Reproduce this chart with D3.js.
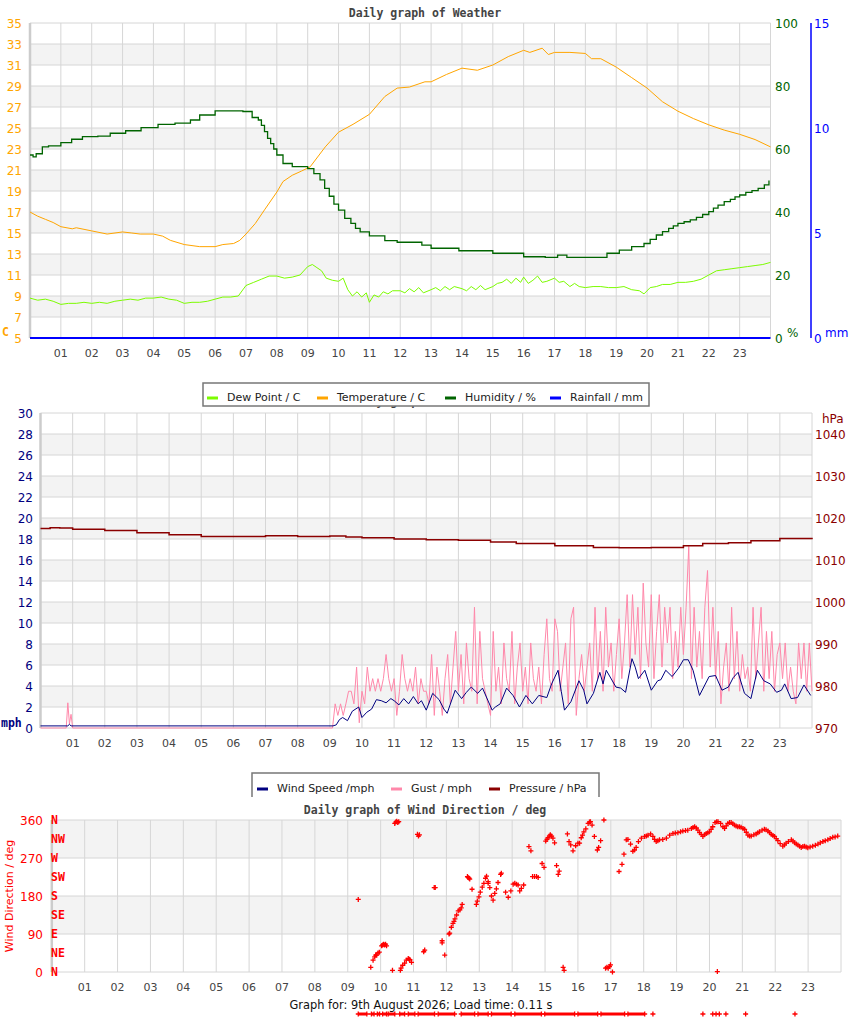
<!DOCTYPE html>
<html>
<head>
<meta charset="utf-8">
<script src="https://cdn.jsdelivr.net/npm/d3@7"></script>
<style>
body { margin: 0; background: #fff; }
text { font-family: "DejaVu Sans", sans-serif; }
.ttl { font-family: "DejaVu Sans Mono", monospace; font-weight: bold; font-size: 11.5px; fill: #444; }
.lbl { font-size: 12px; }
.hr { font-size: 11px; fill: #444; }
</style>
</head>
<body>
<script>
// ---- tick labels ----
const hourLabels = ['01','02','03','04','05','06','07','08','09','10','11','12','13','14','15','16','17','18','19','20','21','22','23'];
const tempTicks = [5, 7, 9, 11, 13, 15, 17, 19, 21, 23, 25, 27, 29, 31, 33, 35];
const humTicks = [0, 20, 40, 60, 80, 100];
const rainTicks = [0, 5, 10, 15];
const windTicks = [0, 2, 4, 6, 8, 10, 12, 14, 16, 18, 20, 22, 24, 26, 28, 30];
const pressTicks = [970, 980, 990, 1000, 1010, 1020, 1030, 1040];
const dirTicks = [0, 90, 180, 270, 360];
const compass = ['N', 'NE', 'E', 'SE', 'S', 'SW', 'W', 'NW', 'N'];

// ---- weather series [hour, value] ----
const temperature = [[0,17.0],[0.25,16.6],[0.5,16.3],[0.75,16.0],[1.0,15.6],[1.37,15.4],[1.5,15.5],[2.0,15.2],[2.5,14.9],[3.0,15.1],[3.3,15.0],[3.57,14.9],[4.0,14.9],[4.3,14.7],[4.55,14.3],[5.0,13.9],[5.5,13.7],[6.0,13.7],[6.25,13.9],[6.6,14.0],[6.8,14.3],[7.0,14.9],[7.3,15.9],[7.6,17.2],[8.0,18.9],[8.2,19.9],[8.5,20.5],[8.8,20.9],[9.08,21.3],[9.57,23.2],[10.0,24.6],[10.47,25.35],[11.0,26.3],[11.5,28.0],[11.9,28.8],[12.3,28.9],[12.8,29.4],[13.0,29.4],[13.5,30.1],[14.0,30.7],[14.5,30.5],[15.0,31.0],[15.5,31.8],[16.0,32.4],[16.2,32.2],[16.4,32.4],[16.6,32.6],[16.8,32.0],[17.0,32.2],[17.5,32.2],[18.0,32.1],[18.2,31.6],[18.5,31.6],[19.0,30.8],[19.5,29.8],[20.0,28.8],[20.5,27.5],[21.0,26.6],[21.5,25.9],[22.0,25.3],[22.5,24.8],[23.0,24.4],[23.5,23.9],[24.0,23.2]];

const dewPoint = [[0,8.8],[0.25,8.6],[0.5,8.7],[0.75,8.5],[1,8.2],[1.25,8.3],[1.5,8.3],[1.75,8.4],[2,8.3],[2.25,8.4],[2.5,8.3],[2.75,8.5],[3,8.6],[3.25,8.7],[3.5,8.6],[3.75,8.8],[4,8.8],[4.25,8.9],[4.5,8.7],[4.75,8.6],[5,8.3],[5.25,8.4],[5.5,8.4],[5.75,8.5],[6,8.7],[6.25,8.9],[6.5,8.9],[6.75,9.0],[7,10.0],[7.25,10.3],[7.5,10.6],[7.75,10.9],[8,10.9],[8.25,10.7],[8.5,10.8],[8.75,11.0],[9,11.8],[9.15,12.0],[9.3,11.7],[9.45,11.4],[9.6,10.7],[9.8,10.5],[10,10.4],[10.15,10.7],[10.3,9.6],[10.45,9.0],[10.6,9.4],[10.75,8.9],[10.9,9.3],[11,8.4],[11.15,9.1],[11.3,8.9],[11.45,9.4],[11.6,9.2],[11.75,9.5],[12,9.5],[12.15,9.3],[12.3,9.7],[12.45,9.4],[12.6,9.8],[12.75,9.3],[13,9.6],[13.15,9.8],[13.3,9.5],[13.45,9.9],[13.6,9.6],[13.75,9.9],[14,9.7],[14.15,9.5],[14.3,9.9],[14.45,9.6],[14.6,10.0],[14.75,9.6],[15,9.9],[15.15,10.2],[15.3,10.3],[15.45,10.6],[15.6,10.2],[15.75,10.7],[15.9,10.3],[16,10.8],[16.15,10.2],[16.3,10.5],[16.45,10.9],[16.6,10.3],[16.75,10.4],[17,10.7],[17.15,10.3],[17.3,10.4],[17.5,9.9],[17.65,10.2],[17.8,9.9],[18,9.8],[18.25,9.9],[18.5,9.9],[18.75,9.8],[19,9.8],[19.25,9.9],[19.5,9.6],[19.75,9.5],[19.9,9.2],[20.1,9.8],[20.3,9.9],[20.5,10.1],[20.75,10.1],[21,10.3],[21.25,10.3],[21.5,10.4],[21.75,10.6],[22,11.0],[22.25,11.4],[22.5,11.5],[22.75,11.6],[23,11.7],[23.25,11.8],[23.5,11.9],[23.75,12.0],[24,12.2]];

const humidity = [[0,58.1],[0.1,57.5],[0.2,58.5],[0.4,60.7],[0.6,61.0],[1.0,62.0],[1.35,63.1],[1.7,63.9],[2.2,64.1],[2.6,65.0],[3.1,65.8],[3.6,66.8],[4.15,67.8],[4.7,68.2],[5.2,69.2],[5.5,70.8],[6.0,72.1],[6.5,72.1],[6.9,71.9],[7.2,70.0],[7.4,69.2],[7.5,67.5],[7.6,65.5],[7.7,63.4],[7.8,61.7],[7.9,60.0],[8.0,58.1],[8.2,55.4],[8.5,54.4],[9.0,53.8],[9.2,52.2],[9.4,50.2],[9.55,47.5],[9.7,45.0],[9.85,42.5],[10.0,40.6],[10.2,38.0],[10.4,36.4],[10.55,34.8],[10.7,33.7],[11.0,32.4],[11.5,30.9],[11.9,30.4],[12.7,29.5],[13.0,28.5],[13.9,27.7],[15.0,26.9],[16.0,25.8],[16.7,25.6],[17.1,26.3],[17.4,25.6],[18.7,26.9],[19.1,27.9],[19.5,29.0],[19.9,30.0],[20.1,31.3],[20.3,32.7],[20.5,33.8],[20.7,34.8],[20.85,35.6],[21.0,36.4],[21.2,36.9],[21.4,37.5],[21.6,38.3],[21.8,39.2],[22.0,40.1],[22.15,41.2],[22.3,42.2],[22.5,43.3],[22.7,44.0],[22.85,44.8],[23.0,45.4],[23.2,46.2],[23.4,46.8],[23.6,47.5],[23.8,48.6],[23.95,50.0]];

const rainfall = [[0,0],[6,0],[12,0],[18,0],[24,0]];

// ---- wind series ----
const windSpeed = [[0,0.2],[0.85,0.2],[0.9,0.35],[0.95,0.2],[9.1,0.2],[9.2,0.3],[9.3,0.8],[9.4,1.0],[9.55,0.7],[9.7,1.6],[9.9,2.0],[10.0,1.0],[10.15,1.5],[10.3,1.8],[10.45,2.7],[10.6,2.6],[10.75,2.4],[10.9,2.8],[11.0,2.6],[11.15,2.2],[11.3,2.8],[11.45,2.3],[11.6,3.0],[11.75,2.3],[11.85,2.6],[12.0,1.7],[12.2,3.3],[12.4,2.7],[12.55,1.8],[12.65,1.4],[12.9,3.6],[13.1,2.8],[13.25,3.4],[13.4,3.9],[13.6,3.3],[13.75,3.8],[14.05,1.7],[14.15,2.0],[14.3,2.3],[14.5,3.8],[14.7,3.1],[14.9,2.0],[15.1,3.1],[15.3,2.3],[15.5,3.1],[15.75,2.9],[15.9,4.2],[16.1,5.5],[16.2,3.5],[16.3,1.7],[16.5,2.5],[16.75,4.5],[16.9,3.6],[17.0,2.3],[17.2,3.3],[17.4,5.3],[17.5,4.2],[17.6,5.5],[17.9,3.9],[18.05,3.8],[18.2,3.4],[18.4,6.6],[18.5,5.8],[18.6,4.7],[18.8,5.5],[19.0,3.6],[19.2,4.5],[19.3,4.6],[19.45,5.5],[19.65,4.9],[19.85,5.7],[20.0,6.5],[20.15,6.5],[20.3,5.5],[20.5,3.1],[20.65,4.0],[20.8,4.9],[21.0,5.0],[21.2,3.6],[21.4,3.9],[21.55,4.8],[21.7,5.3],[21.9,3.3],[22.1,2.8],[22.3,5.5],[22.5,4.5],[22.7,4.2],[22.9,3.4],[23.05,3.6],[23.15,4.2],[23.35,2.8],[23.55,2.9],[23.75,4.1],[23.96,3.1]];

// gusts, one reading every 5 minutes from 09:00
const gustStart = 9;
const gust = [
  0, 0, 2.3, 1.2, 2.3, 1.2, 2.3, 3.5, 3.5, 2.3, 5.8, 0.5,
  3.5, 2.3, 5.8, 3.5, 4.7, 3.5, 4.7, 3.5, 4.7, 7.0, 4.7, 3.5,
  4.7, 1.2, 3.5, 7.0, 4.7, 3.5, 4.7, 3.5, 5.8, 2.3, 4.7, 3.5,
  3.5, 2.3, 7.0, 1.2, 5.8, 3.5, 1.2, 4.7, 7.0, 2.3, 5.8, 9.2,
  3.5, 7.0, 2.3, 8.1, 4.7, 3.5, 11.5, 2.3, 9.2, 4.7, 3.5, 2.3,
  1.2, 9.2, 3.5, 5.8, 2.3, 8.1, 4.7, 3.5, 9.2, 2.3, 5.8, 8.1,
  3.5, 5.8, 2.3, 8.1, 4.7, 3.5, 5.8, 2.3, 7.0, 10.4, 4.7, 3.5,
  10.4, 9.2, 3.5, 5.8, 8.1, 2.3, 10.4, 11.5, 1.2, 4.7, 7.0, 3.5,
  5.8, 8.1, 3.5, 11.5, 4.7, 9.2, 3.5, 11.5, 5.8, 8.1, 3.5, 7.0,
  10.4, 4.7, 8.1, 12.7, 5.8, 12.7, 7.0, 11.5, 4.7, 13.8, 8.1, 5.8,
  12.7, 4.7, 9.2, 12.7, 5.8, 11.5, 8.1, 11.5, 4.7, 9.2, 5.8, 11.5,
  7.0, 11.5, 17.3, 4.7, 11.5, 5.8, 9.2, 4.7, 11.5, 15.0, 5.8, 11.5,
  4.7, 9.2, 2.3, 5.8, 8.1, 3.5, 11.5, 4.7, 9.2, 3.5, 7.0, 4.7,
  5.8, 3.5, 11.5, 4.7, 8.1, 11.5, 3.5, 9.2, 4.7, 9.2, 3.5, 7.0,
  8.1, 4.7, 8.1, 3.5, 5.8, 3.5, 2.3, 8.1, 4.7, 8.1, 3.5, 8.1, 3.5
];
const earlyGust = [[0,0],[0.8,0],[0.85,2.4],[0.9,0.4],[0.95,1.3],[1.0,0],[9,0]];

const pressure = [[0,1017.5],[0.3,1017.7],[0.6,1017.6],[1,1017.3],[2,1017.0],[3,1016.5],[4,1016.0],[5,1015.6],[6,1015.6],[7,1015.8],[8,1015.6],[9,1015.7],[9.5,1015.5],[10,1015.3],[11,1015.0],[12,1014.8],[13,1014.7],[14,1014.3],[14.8,1013.9],[16,1013.4],[17.2,1013.0],[18,1012.9],[19,1013.0],[20,1013.4],[20.6,1013.9],[21.4,1014.1],[22.1,1014.6],[23,1015.1],[24,1015.3]];

// ---- wind direction [hour, deg] ----
const direction = [[9.32,172],[9.70,11],[9.77,28],[9.82,36],[9.85,40],[9.88,40],[9.92,45],[9.96,47],[10.03,62],[10.06,64],[10.09,66],[10.12,64],[10.15,66],[10.18,62],[10.36,4],[10.43,352],[10.46,355],[10.49,357],[10.52,354],[10.55,356],[10.6,4],[10.62,9],[10.67,16],[10.73,21],[10.78,28],[10.84,32],[10.87,30],[10.89,29],[10.94,23],[11.12,326],[11.15,322],[11.18,325],[11.31,48],[11.34,52],[11.63,200],[11.66,200],[11.87,69],[11.87,74],[11.95,40],[12.08,90],[12.1,92],[12.15,106],[12.2,115],[12.23,120],[12.26,126],[12.31,135],[12.36,145],[12.41,147],[12.45,152],[12.48,160],[12.64,226],[12.66,224],[12.69,222],[12.71,220],[12.78,196],[12.91,160],[12.94,168],[12.99,178],[13.03,189],[13.09,201],[13.14,210],[13.19,222],[13.22,227],[13.27,214],[13.27,210],[13.32,200],[13.37,180],[13.42,170],[13.47,186],[13.52,197],[13.57,212],[13.65,231],[13.67,234],[13.8,189],[13.88,177],[13.96,192],[14.03,208],[14.08,210],[14.13,208],[14.18,206],[14.23,192],[14.28,198],[14.35,206],[14.51,297],[14.57,287],[14.62,226],[14.68,226],[14.74,226],[14.79,224],[14.91,257],[14.97,248],[15.02,310],[15.06,314],[15.09,318],[15.13,322],[15.16,325],[15.2,322],[15.24,317],[15.29,306],[15.35,252],[15.4,231],[15.43,239],[15.55,11],[15.58,4],[15.68,327],[15.73,309],[15.78,301],[15.85,287],[15.93,299],[16.0,305],[16.05,305],[16.1,318],[16.14,324],[16.18,332],[16.24,339],[16.31,352],[16.35,355],[16.38,356],[16.43,348],[16.5,321],[16.59,289],[16.63,295],[16.69,311],[16.79,360],[16.84,9],[16.88,11],[16.92,9],[16.96,13],[16.99,17],[17.05,0],[17.25,238],[17.34,255],[17.4,279],[17.47,313],[17.52,314],[17.6,303],[17.67,286],[17.72,289],[17.77,295],[17.84,309],[17.93,317],[18.03,321],[18.08,322],[18.13,324],[18.21,327],[18.28,321],[18.33,314],[18.38,309],[18.43,311],[18.48,313],[18.58,314],[18.69,317],[18.79,324],[18.89,328],[18.96,329],[19.04,330],[19.12,332],[19.19,334],[19.27,335],[19.34,336],[19.45,340],[19.5,342],[19.55,344],[19.6,341],[19.65,336],[19.7,330],[19.75,326],[19.8,321],[19.85,325],[19.9,328],[19.95,330],[20.0,332],[20.05,338],[20.1,344],[20.17,354],[20.22,356],[20.24,1],[20.26,356],[20.34,352],[20.41,344],[20.46,340],[20.51,346],[20.56,352],[20.61,354],[20.66,354],[20.71,351],[20.76,348],[20.81,346],[20.86,344],[20.91,344],[20.96,343],[21.02,340],[21.07,338],[21.12,331],[21.17,324],[21.22,322],[21.27,322],[21.35,325],[21.42,327],[21.47,330],[21.52,332],[21.6,336],[21.67,338],[21.72,337],[21.78,334],[21.83,330],[21.88,326],[21.93,323],[21.98,321],[22.03,316],[22.08,311],[22.15,304],[22.23,298],[22.28,301],[22.33,305],[22.4,309],[22.49,313],[22.54,310],[22.59,306],[22.64,303],[22.69,301],[22.74,298],[22.79,295],[22.84,297],[22.89,298],[22.94,296],[22.99,294],[23.06,296],[23.14,298],[23.22,300],[23.3,303],[23.37,306],[23.45,309],[23.52,311],[23.6,313],[23.67,316],[23.75,319],[23.82,320],[23.9,322]];

// readings that fall below the scale (plotted off the bottom)
const offScaleDeg = -99.5;
const offScaleRuns = [[9.32,9.58],[9.72,9.8],[9.9,9.97],[10.06,10.18],[10.23,10.43],[10.58,10.73],[10.84,11.04],[11.14,11.64],[11.75,12.25],[12.45,12.86],[12.96,13.27],[13.37,13.97],[14.08,14.89],[14.99,15.9],[16.0,16.6],[16.7,17.42],[17.52,18.03]];
const offScaleSingles = [18.28, 19.8, 20.1, 20.2, 20.3, 20.5, 21.1, 22.6];

// ---------------------------------------------------------------
const svg = d3.select('body').append('svg')
    .attr('width', 850)
    .attr('height', 1017);

const hourX = d => d[0];
const val = d => d[1];

// grid, bands and hour labels of one panel
function drawPanel(x, y, ticks) {
    const [left, right] = [x.range()[0], x.range()[1]];
    const [bottom, top] = y.range();
    const g = svg.append('g');

    for (let i = 0; i < ticks.length - 1; i++) {
        if (i % 2 == 1) {
            g.append('rect')
                .attr('x', left).attr('width', right - left)
                .attr('y', y(ticks[i + 1])).attr('height', y(ticks[i]) - y(ticks[i + 1]))
                .attr('fill', '#f3f3f3');
        }
    }
    g.selectAll('.hl').data(ticks).enter().append('line')
        .attr('x1', left).attr('x2', right)
        .attr('y1', d => y(d)).attr('y2', d => y(d))
        .attr('stroke', '#d6d6d6');
    g.selectAll('.vl').data(hourLabels).enter().append('line')
        .attr('x1', d => x(+d)).attr('x2', d => x(+d))
        .attr('y1', top).attr('y2', bottom)
        .attr('stroke', '#d6d6d6');
    g.append('line')
        .attr('x1', right).attr('x2', right).attr('y1', top).attr('y2', bottom)
        .attr('stroke', '#d6d6d6');
    g.append('line')
        .attr('x1', left).attr('x2', left).attr('y1', top).attr('y2', bottom)
        .attr('stroke', '#cccccc').attr('stroke-width', 2.5);

    g.selectAll('.hr').data(hourLabels).enter().append('text')
        .attr('class', 'hr')
        .attr('x', d => x(+d)).attr('y', bottom + 19)
        .attr('text-anchor', 'middle')
        .text(d => d);
    return g;
}

function axisLabels(ticks, y, xPos, anchor, colour) {
    svg.append('g').selectAll('text').data(ticks).enter().append('text')
        .attr('class', 'lbl')
        .attr('x', xPos).attr('y', d => y(d) + 4.5)
        .attr('text-anchor', anchor)
        .attr('fill', colour)
        .text(d => d);
}

function legend(x0, y0, x1, y1, items, openBottom) {
    const lg = svg.append('g');
    lg.append('rect').attr('x', x0).attr('y', y0).attr('width', x1 - x0).attr('height', y1 - y0)
        .attr('fill', '#fff');
    if (openBottom) {
        lg.append('path').attr('d', `M${x0},${y1}V${y0}H${x1}V${y1}`)
            .attr('fill', 'none').attr('stroke', '#777').attr('stroke-width', 1.5);
    } else {
        lg.append('rect').attr('x', x0).attr('y', y0).attr('width', x1 - x0).attr('height', y1 - y0)
            .attr('fill', 'none').attr('stroke', '#777').attr('stroke-width', 1.5);
    }
    items.forEach(it => {
        lg.append('line').attr('x1', it.sx).attr('x2', it.sx + 11)
            .attr('y1', y1 - 8).attr('y2', y1 - 8)
            .attr('stroke', it.colour).attr('stroke-width', 3);
        lg.append('text').attr('x', it.sx + 20).attr('y', y1 - 5)
            .attr('font-size', '11px').attr('fill', '#222')
            .text(it.name);
    });
}

function drawLine(data, x, y, colour, width, curve) {
    svg.append('path')
        .datum(data)
        .attr('fill', 'none')
        .attr('stroke', colour)
        .attr('stroke-width', width)
        .attr('d', d3.line().x(d => x(hourX(d))).y(d => y(val(d))).curve(curve || d3.curveLinear));
}

// ===== panel 1: weather =====
const x1 = d3.scaleLinear().domain([0, 24]).range([30, 770.5]);
const yTemp = d3.scaleLinear().domain([5, 35]).range([338, 23]);
const yHum = d3.scaleLinear().domain([0, 100]).range([338, 23]);
const yRain = d3.scaleLinear().domain([0, 15]).range([338, 23]);

svg.append('text').attr('class', 'ttl').attr('x', 425).attr('y', 17)
    .attr('text-anchor', 'middle').text('Daily graph of Weather');

drawPanel(x1, yTemp, tempTicks);
axisLabels(tempTicks, yTemp, 22, 'end', '#ffa500');
axisLabels(humTicks, yHum, 775, 'start', '#006400');
svg.append('line').attr('x1', 811).attr('x2', 811).attr('y1', yRain(15)).attr('y2', yRain(0))
    .attr('stroke', '#0000ff').attr('stroke-width', 1.5);
axisLabels(rainTicks, yRain, 814, 'start', '#0000ff');
svg.append('text').attr('class', 'ttl').attr('x', 2).attr('y', 336)
    .style('fill', '#ffa500').text('C');
svg.append('text').attr('x', 787).attr('y', 337).attr('font-size', '12px')
    .attr('fill', '#006400').text('%');
svg.append('text').attr('x', 825).attr('y', 337).attr('font-size', '12px')
    .attr('fill', '#0000ff').text('mm');

drawLine(dewPoint, x1, yTemp, '#7cfc00', 1);
drawLine(temperature, x1, yTemp, '#ffa500', 1);
drawLine(humidity, x1, yHum, '#006400', 1.3, d3.curveStepAfter);
drawLine(rainfall, x1, yRain, '#0000ff', 2);

// ===== panel 2: wind speed & pressure =====
const x2 = d3.scaleLinear().domain([0, 24]).range([40.5, 812]);
const yWind = d3.scaleLinear().domain([0, 30]).range([728, 413]);
const yPress = d3.scaleLinear().domain([970, 1045]).range([728, 413]);

// title sits under the legend of the first panel
svg.append('text').attr('class', 'ttl').attr('x', 425).attr('y', 405)
    .attr('text-anchor', 'middle').text('Daily graph of Weather');
legend(203, 383, 649, 406, [
    { sx: 207, colour: '#7cfc00', name: 'Dew Point / C' },
    { sx: 317, colour: '#ffa500', name: 'Temperature / C' },
    { sx: 445, colour: '#006400', name: 'Humidity / %' },
    { sx: 550, colour: '#0000ff', name: 'Rainfall / mm' }
]);

drawPanel(x2, yWind, windTicks);
axisLabels(windTicks, yWind, 33, 'end', '#000080');
axisLabels(pressTicks, yPress, 815, 'start', '#8b0000');
svg.append('text').attr('x', 822).attr('y', 423).attr('font-size', '12px')
    .attr('fill', '#8b0000').text('hPa');
svg.append('text').attr('class', 'ttl').attr('x', 1).attr('y', 727)
    .style('fill', '#000080').text('mph');

const gustSeries = earlyGust.concat(gust.map((v, i) => [gustStart + i / 12, v]));
drawLine(gustSeries, x2, yWind, '#ff88aa', 1);
drawLine(windSpeed, x2, yWind, '#000080', 1);
drawLine(pressure, x2, yPress, '#8b0000', 1.5, d3.curveStepAfter);

// ===== panel 3: wind direction =====
const x3 = d3.scaleLinear().domain([0, 24]).range([51.8, 841]);
const yDir = d3.scaleLinear().domain([0, 360]).range([972, 820]);

legend(252, 773, 599, 797, [
    { sx: 257, colour: '#000080', name: 'Wind Speed /mph' },
    { sx: 391, colour: '#ff88aa', name: 'Gust / mph' },
    { sx: 489, colour: '#8b0000', name: 'Pressure / hPa' }
], true);

svg.append('text').attr('class', 'ttl').attr('x', 425).attr('y', 814)
    .attr('text-anchor', 'middle').text('Daily graph of Wind Direction / deg');

drawPanel(x3, yDir, dirTicks);
axisLabels(dirTicks, yDir, 43, 'end', '#ff0000');
svg.append('g').selectAll('text').data(compass).enter().append('text')
    .attr('class', 'ttl')
    .attr('x', 51).attr('y', (d, i) => yDir(i * 45) + 4)
    .style('fill', '#ff0000')
    .text(d => d);
svg.append('text')
    .attr('transform', `translate(13, ${yDir(180)}) rotate(-90)`)
    .attr('text-anchor', 'middle')
    .attr('font-size', '11px')
    .attr('fill', '#ff0000')
    .text('Wind Direction / deg');

const plus = 'M-2.5,0H2.5M0,-2.5V2.5';
svg.append('g').selectAll('path').data(direction).enter().append('path')
    .attr('d', plus)
    .attr('transform', d => `translate(${x3(hourX(d))},${yDir(val(d))})`)
    .attr('stroke', '#ff0000').attr('stroke-width', 1.3).attr('fill', 'none');

const off = svg.append('g');
off.selectAll('line').data(offScaleRuns).enter().append('line')
    .attr('x1', d => x3(d[0])).attr('x2', d => x3(d[1]))
    .attr('y1', yDir(offScaleDeg)).attr('y2', yDir(offScaleDeg))
    .attr('stroke', '#ff0000').attr('stroke-width', 3);
off.selectAll('path').data(offScaleRuns.flat().concat(offScaleSingles)).enter().append('path')
    .attr('d', plus)
    .attr('transform', d => `translate(${x3(d)},${yDir(offScaleDeg)})`)
    .attr('stroke', '#ff0000').attr('stroke-width', 1.3).attr('fill', 'none');

svg.append('text').attr('x', 421).attr('y', 1009)
    .attr('text-anchor', 'middle').attr('font-size', '11.4px').attr('fill', '#111')
    .text('Graph for: 9th August 2026; Load time: 0.11 s');
</script>
</body>
</html>
